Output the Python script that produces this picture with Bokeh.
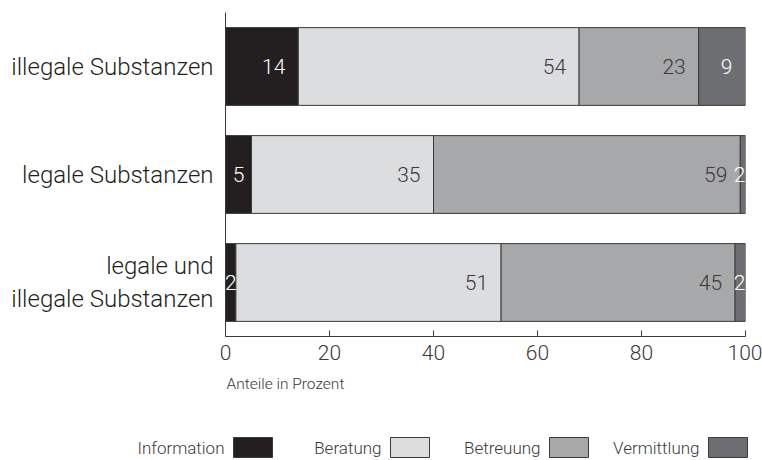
from bokeh.plotting import figure
from bokeh.layouts import column
from bokeh.models import ColumnDataSource, Range1d, FactorRange, Label
from bokeh.core.properties import value
from bokeh.embed import file_html
from bokeh.resources import INLINE

# Anteile der Angebotsarten je Substanzgruppe (in Prozent)
categories = ["legale und\nillegale Substanzen", "legale Substanzen", "illegale Substanzen"]
series = ["Information", "Beratung", "Betreuung", "Vermittlung"]
information = [2, 5, 14]
beratung = [51, 35, 54]
betreuung = [45, 59, 23]
vermittlung = [2, 2, 9]
x_ticks = [0, 20, 40, 60, 80, 100]

colors = ["#231f20", "#dcdddf", "#a7a8aa", "#6d6e71"]
label_colors = ["#ffffff", "#3a3a3a", "#3a3a3a", "#ffffff"]
FONT = "Roboto Light, Roboto"
TEXT = "#231f20"
GREY = "#3a3a3a"

values = [information, beratung, betreuung, vermittlung]
data = {"cat": categories}
for name, vals in zip(series, values):
    data[name] = vals
source = ColumnDataSource(data)

X_MIN, X_MAX = 0, 100
p = figure(
    width=762, height=370,
    y_range=FactorRange(*categories, range_padding=0),
    x_range=Range1d(X_MIN, X_MAX),
    output_backend="svg", toolbar_location=None,
    min_border_left=225, min_border_right=17, min_border_top=12, min_border_bottom=34,
)
p.frame_align = False
p.outline_line_color = None
p.grid.grid_line_color = None

p.hbar_stack(series, y="cat", height=0.72, color=colors, source=source,
             line_color=GREY, line_width=1)

# value labels: right-aligned inside wide segments, centred in narrow ones
lx, ly, lt, lc, la, lo = [], [], [], [], [], []
for ci, cat in enumerate(categories):
    start = 0
    for si, vals in enumerate(values):
        v = vals[ci]
        end = start + v
        ly.append(cat)
        lt.append(str(v))
        lc.append(label_colors[si])
        if v >= 8:
            lx.append(end)
            la.append("right")
            lo.append(-13)
        elif end >= X_MAX:
            lx.append(X_MAX)
            la.append("right")
            lo.append(0)
        else:
            lx.append((start + end) / 2)
            la.append("center")
            lo.append(0)
        start = end
labels = ColumnDataSource(dict(x=lx, y=ly, text=lt, color=lc, align=la, off=lo))
p.text(x="x", y="y", text="text", source=labels, text_color="color",
       text_align="align", x_offset="off", text_baseline="middle",
       text_font=value(FONT), text_font_size="21px")

xa = p.xaxis[0]
xa.ticker = x_ticks
xa.major_tick_in = 6
xa.major_tick_out = 0
xa.minor_tick_line_color = None
xa.axis_line_color = GREY
xa.major_tick_line_color = GREY
xa.major_label_text_font = FONT
xa.major_label_text_font_size = "21px"
xa.major_label_text_color = GREY
xa.major_label_standoff = 8

ya = p.yaxis[0]
ya.major_tick_line_color = None
ya.minor_tick_line_color = None
ya.axis_line_color = GREY
ya.major_label_text_font = FONT
ya.major_label_text_font_size = "24px"
ya.major_label_text_color = TEXT
ya.major_label_standoff = 6

# axis title and legend strip below the chart (label before swatch), x in pixels
q = figure(width=762, height=90, x_range=Range1d(0, 762), y_range=Range1d(90, 0),
           output_backend="svg", toolbar_location=None,
           min_border_left=0, min_border_right=0,
           min_border_top=0, min_border_bottom=0)
q.frame_align = False
q.axis.visible = False
q.grid.grid_line_color = None
q.outline_line_color = None

q.add_layout(Label(x=226, y=13, text="Anteile in Prozent", text_align="left",
                   text_baseline="middle", text_font=FONT, text_font_size="15.5px",
                   text_color=GREY))

swatch_left = [233, 390, 549, 708]
for name, left in zip(series, swatch_left):
    q.add_layout(Label(x=left - 9, y=77, text=name, text_align="right",
                       text_baseline="middle", text_font=FONT,
                       text_font_size="17px", text_color=GREY))
leg = ColumnDataSource(dict(
    sx=[s + 19.5 for s in swatch_left],
    y=[77] * 4,
    color=colors,
))
q.rect(x="sx", y="y", width=39, height=20, source=leg, fill_color="color",
       line_color=GREY, line_width=1)

layout = column(p, q, spacing=0)
open("out.html", "w").write(file_html(layout, INLINE))
